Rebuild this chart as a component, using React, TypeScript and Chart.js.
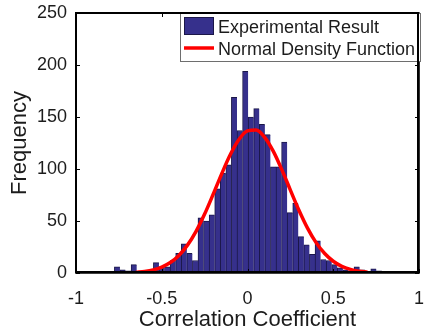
import React, { useEffect, useRef } from "react";
import { Chart, registerables } from "chart.js";

Chart.register(...registerables);

// Histogram bins (centres) and counts
const binCenters = [
  -0.76, -0.7275, -0.695, -0.6625, -0.63, -0.5975, -0.565, -0.5325, -0.5, -0.4675,
  -0.435, -0.4025, -0.37, -0.3375, -0.305, -0.2725, -0.24, -0.2075, -0.175, -0.1425,
  -0.11, -0.0775, -0.045, -0.0125, 0.02, 0.0525, 0.085, 0.1175, 0.15, 0.1825,
  0.215, 0.2475, 0.28, 0.3125, 0.345, 0.3775, 0.41, 0.4425, 0.475, 0.5075,
  0.54, 0.5725, 0.605, 0.6375, 0.67, 0.7025, 0.735, 0.7675, 0.8,
];
const binCounts = [
  6, 3, 2, 8, 1, 1, 2, 10, 6, 6,
  12, 19, 28, 19, 12, 53, 50, 56, 81, 96,
  104, 169, 137, 194, 150, 158, 143, 133, 102, 102,
  126, 58, 67, 35, 27, 18, 31, 13, 12, 8,
  5, 3, 2, 6, 3, 1, 4, 2, 1,
];

// Normal density curve samples
const curveX = [
  -0.65, -0.6, -0.55, -0.5, -0.45, -0.4, -0.35, -0.3, -0.25, -0.2, -0.15, -0.1, -0.05,
  0, 0.05, 0.1, 0.15, 0.2, 0.25, 0.3, 0.35, 0.4, 0.45, 0.5, 0.55, 0.6, 0.65, 0.7,
];
const curveY = [
  0.7, 1.5, 3.0, 5.7, 10.1, 16.9, 26.8, 40.1, 56.7, 75.8, 95.6, 113.9, 128.3,
  136.6, 137.4, 130.5, 117.2, 99.4, 79.7, 60.4, 43.2, 29.2, 18.7, 11.3, 6.4, 3.5, 1.8, 0.85,
];

const xTicks = [-1, -0.5, 0, 0.5, 1];
const xTickLabels = ["-1", "-0.5", "0", "0.5", "1"];
const yTicks = [0, 50, 100, 150, 200, 250];
const yTickLabels = ["0", "50", "100", "150", "200", "250"];
const legendLabels = ["Experimental Result", "Normal Density Function"];
const xTitle = "Correlation Coefficient";
const yTitle = "Frequency";

const BAR_COLOR = "#36308c";
const BAR_EDGE = "#1b1748";
const LINE_COLOR = "#ff0000";
const FONT = '"Liberation Sans", Arial, Helvetica, sans-serif';
const TEXT = "#1c1c1c";
const AXIS = "#000000";

// fixed plot box (pixel layout of the axes frame)
const BOX = { left: 76, top: 13, right: 419, bottom: 273 };

const framePlugin = {
  id: "frame",
  afterDraw(chart: any) {
    const ctx = chart.ctx;
    const xs = chart.scales.x;
    const ys = chart.scales.y;
    const L = Math.round(xs.getPixelForValue(-1));
    const R = Math.round(xs.getPixelForValue(1));
    const T = Math.round(ys.getPixelForValue(250));
    const B = Math.round(ys.getPixelForValue(0));
    ctx.save();
    ctx.strokeStyle = AXIS;
    ctx.lineWidth = 1.6;
    ctx.beginPath();
    ctx.moveTo(L, T);
    ctx.lineTo(R, T);
    ctx.lineTo(R, B);
    ctx.lineTo(L, B);
    ctx.closePath();
    ctx.stroke();
    // inner ticks
    ctx.lineWidth = 1;
    ctx.beginPath();
    xTicks.forEach((v) => {
      const px = Math.round(xs.getPixelForValue(v)) + 0.5;
      ctx.moveTo(px, B);
      ctx.lineTo(px, B - 4);
      ctx.moveTo(px, T);
      ctx.lineTo(px, T + 4);
    });
    yTicks.forEach((v) => {
      const py = Math.round(ys.getPixelForValue(v)) + 0.5;
      ctx.moveTo(L, py);
      ctx.lineTo(L + 4, py);
      ctx.moveTo(R, py);
      ctx.lineTo(R - 4, py);
    });
    ctx.stroke();

    // legend
    const lx = 180;
    const ly = T;
    const lw = R - lx + 2;
    const lh = 49;
    ctx.fillStyle = "#fff";
    ctx.fillRect(lx, ly + 1, lw, lh - 1);
    ctx.strokeStyle = "#6e6e6e";
    ctx.lineWidth = 1;
    ctx.strokeRect(lx + 0.5, ly + 0.5, lw - 1, lh - 1);

    ctx.fillStyle = BAR_COLOR;
    ctx.fillRect(184, 17, 30, 18);
    ctx.strokeStyle = BAR_EDGE;
    ctx.lineWidth = 1;
    ctx.strokeRect(184.5, 17.5, 29, 17);

    ctx.strokeStyle = LINE_COLOR;
    ctx.lineWidth = 3.5;
    ctx.beginPath();
    ctx.moveTo(184, 48);
    ctx.lineTo(214, 48);
    ctx.stroke();

    ctx.fillStyle = TEXT;
    ctx.font = `18px ${FONT}`;
    ctx.textAlign = "left";
    ctx.textBaseline = "alphabetic";
    ctx.fillText(legendLabels[0], 218, 33);
    ctx.fillText(legendLabels[1], 218, 55);
    ctx.restore();
  },
};

const zeroPad = (s: any) => {
  s.paddingTop = 0;
  s.paddingBottom = 0;
  s.paddingLeft = 0;
  s.paddingRight = 0;
};

export default function App() {
  const ref = useRef<HTMLCanvasElement | null>(null);

  useEffect(() => {
    if (!ref.current) return;
    const chart = new Chart(ref.current, {
      type: "bar",
      data: {
        datasets: [
          {
            type: "line",
            label: legendLabels[1],
            data: curveX.map((x, i) => ({ x, y: curveY[i] })),
            borderColor: LINE_COLOR,
            borderWidth: 3.5,
            pointRadius: 0,
            cubicInterpolationMode: "monotone",
            fill: false,
            order: 1,
          } as any,
          {
            type: "bar",
            label: legendLabels[0],
            data: binCenters.map((x, i) => ({ x, y: binCounts[i] })),
            backgroundColor: BAR_COLOR,
            borderColor: BAR_EDGE,
            borderWidth: { left: 1, top: 1, right: 0, bottom: 0 },
            borderSkipped: false,
            barPercentage: 1,
            categoryPercentage: 1,
            order: 2,
          } as any,
        ],
      },
      options: {
        responsive: false,
        animation: false,
        devicePixelRatio: 1,
        layout: { padding: { top: BOX.top, right: 428 - BOX.right, left: 0, bottom: 0 } },
        plugins: { legend: { display: false }, tooltip: { enabled: false } },
        scales: {
          x: {
            type: "linear",
            min: -1,
            max: 1,
            offset: false,
            grid: { display: false, drawTicks: false },
            border: { display: false },
            afterBuildTicks: (s: any) => {
              s.ticks = xTicks.map((v) => ({ value: v }));
            },
            ticks: {
              padding: 15,
              color: TEXT,
              maxRotation: 0,
              autoSkip: false,
              font: { family: FONT, size: 18 },
              callback: (_v: any, i: number) => xTickLabels[i],
            },
            title: {
              display: true,
              text: xTitle,
              color: TEXT,
              font: { family: FONT, size: 22 },
              padding: { top: 0, bottom: 2 },
            },
            afterFit: (s: any) => {
              s.height = 335 - BOX.bottom;
              zeroPad(s);
            },
          },
          y: {
            min: 0,
            max: 250,
            grid: { display: false, drawTicks: false },
            border: { display: false },
            afterBuildTicks: (s: any) => {
              s.ticks = yTicks.map((v) => ({ value: v }));
            },
            ticks: {
              padding: 9,
              color: TEXT,
              autoSkip: false,
              font: { family: FONT, size: 18 },
              callback: (_v: any, i: number) => yTickLabels[i],
            },
            title: {
              display: true,
              text: yTitle,
              color: TEXT,
              font: { family: FONT, size: 22 },
              padding: { top: 7, bottom: 0 },
            },
            afterFit: (s: any) => {
              s.width = BOX.left;
              zeroPad(s);
            },
          },
        },
      } as any,
      plugins: [framePlugin],
    });
    return () => chart.destroy();
  }, []);

  return (
    <div style={{ position: "absolute", left: 0, top: 0, width: 428, height: 335, background: "#fff" }}>
      <canvas ref={ref} width={428} height={335} style={{ display: "block", width: 428, height: 335 }} />
      <div
        style={{
          position: "absolute",
          left: BOX.left - 1,
          top: BOX.top - 1,
          width: BOX.right - BOX.left + 1,
          height: BOX.bottom - BOX.top + 1,
          border: `2px solid ${AXIS}`,
          boxSizing: "border-box",
          pointerEvents: "none",
        }}
      />
    </div>
  );
}
